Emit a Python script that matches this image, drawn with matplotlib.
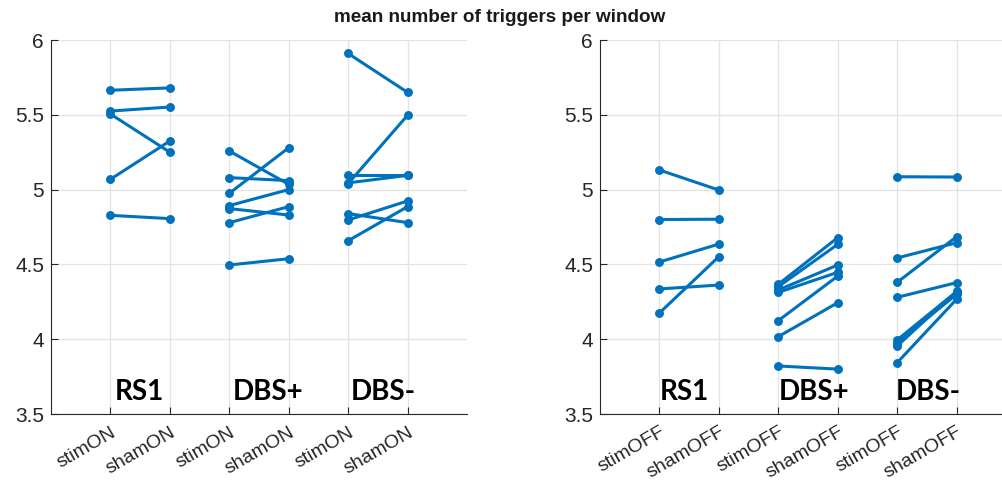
import matplotlib
matplotlib.use("Agg")
import matplotlib.pyplot as plt
from matplotlib.transforms import ScaledTranslation

# ---------------- data ----------------
left_ticklabels = ["stimON", "shamON", "stimON", "shamON", "stimON", "shamON"]
right_ticklabels = ["stimOFF", "shamOFF", "stimOFF", "shamOFF", "stimOFF", "shamOFF"]
group_names = ["RS1", "DBS+", "DBS-"]

# ON condition (left panel)
on_rs1_stim = [5.664, 5.525, 5.505, 5.069, 4.828]
on_rs1_sham = [5.680, 5.552, 5.250, 5.325, 4.806]
on_dbsp_stim = [5.258, 5.080, 4.975, 4.893, 4.873, 4.779, 4.496]
on_dbsp_sham = [5.035, 5.060, 5.280, 5.000, 4.830, 4.886, 4.538]
on_dbsm_stim = [5.910, 5.100, 5.045, 5.040, 4.840, 4.797, 4.658]
on_dbsm_sham = [5.650, 5.100, 5.095, 5.497, 4.779, 4.924, 4.886]

# OFF condition (right panel)
off_rs1_stim = [5.131, 4.800, 4.516, 4.336, 4.175]
off_rs1_sham = [4.997, 4.802, 4.636, 4.362, 4.552]
off_dbsp_stim = [4.367, 4.351, 4.329, 4.313, 4.124, 4.017, 3.821]
off_dbsp_sham = [4.679, 4.634, 4.496, 4.447, 4.422, 4.244, 3.800]
off_dbsm_stim = [5.086, 4.543, 4.380, 4.280, 3.995, 3.977, 3.955, 3.843]
off_dbsm_sham = [5.084, 4.645, 4.685, 4.378, 4.318, 4.300, 4.320, 4.267]

left_groups = [(on_rs1_stim, on_rs1_sham), (on_dbsp_stim, on_dbsp_sham), (on_dbsm_stim, on_dbsm_sham)]
right_groups = [(off_rs1_stim, off_rs1_sham), (off_dbsp_stim, off_dbsp_sham), (off_dbsm_stim, off_dbsm_sham)]

title = "mean number of triggers per window"

# ---------------- plot ----------------
blue = "#0072BD"
W, H = 1002, 483
fig = plt.figure(figsize=(W / 100, H / 100), dpi=100)

ax_w = 416 / W
ax_b = 1 - 414 / H
ax_h = (414 - 40) / H
axL = fig.add_axes([51 / W, ax_b, ax_w, ax_h])
axR = fig.add_axes([600 / W, ax_b, ax_w, ax_h])

def draw(ax, groups, ticklabels, label_x):
    for gi, (stim, sham) in enumerate(groups):
        xs = [2 * gi + 1, 2 * gi + 2]
        for a, b in zip(stim, sham):
            ax.plot(xs, [a, b], color=blue, lw=2.2, marker="o", ms=5.4,
                    solid_capstyle="round", zorder=3)
    ax.set_xlim(0, 7)
    ax.set_ylim(3.5, 6)
    ax.set_xticks(range(1, 7))
    ax.set_xticklabels(ticklabels, rotation=30, ha="right", rotation_mode="anchor",
                       fontsize=14, family="Liberation Sans", color="#262626")
    offset = ScaledTranslation(6 / 100, 0, fig.dpi_scale_trans)
    for lab in ax.get_xticklabels():
        lab.set_transform(lab.get_transform() + offset)
    ax.set_yticks([3.5, 4, 4.5, 5, 5.5, 6])
    ax.set_yticklabels(["3.5", "4", "4.5", "5", "5.5", "6"], fontsize=15,
                       family="Liberation Sans", color="#262626")
    ax.tick_params(axis="both", direction="in", length=5, width=0.8, color="#262626")
    ax.tick_params(axis="x", pad=7)
    ax.tick_params(axis="y", pad=5)
    ax.grid(True, color="#e3e3e3", lw=0.9, zorder=0)
    ax.set_axisbelow(True)
    for s in ["top", "right"]:
        ax.spines[s].set_visible(False)
    for s in ["left", "bottom"]:
        ax.spines[s].set_color("#262626")
        ax.spines[s].set_linewidth(0.8)
    for gi, name in enumerate(group_names):
        ax.text(label_x[gi], 3.595, name, fontsize=20, fontweight="bold",
                family="Lato", ha="left", va="baseline", color="black", zorder=4)

draw(axL, left_groups, left_ticklabels, [1.08, 3.05, 5.05])
draw(axR, right_groups, right_ticklabels, [1.0, 3.0, 4.98])

fig.text(500 / W, 1 - 17 / H, title, fontsize=13.6, fontweight="bold",
         family="Liberation Sans", ha="center", va="center", color="#1a1a1a")

fig.savefig("out.png", dpi=100)
